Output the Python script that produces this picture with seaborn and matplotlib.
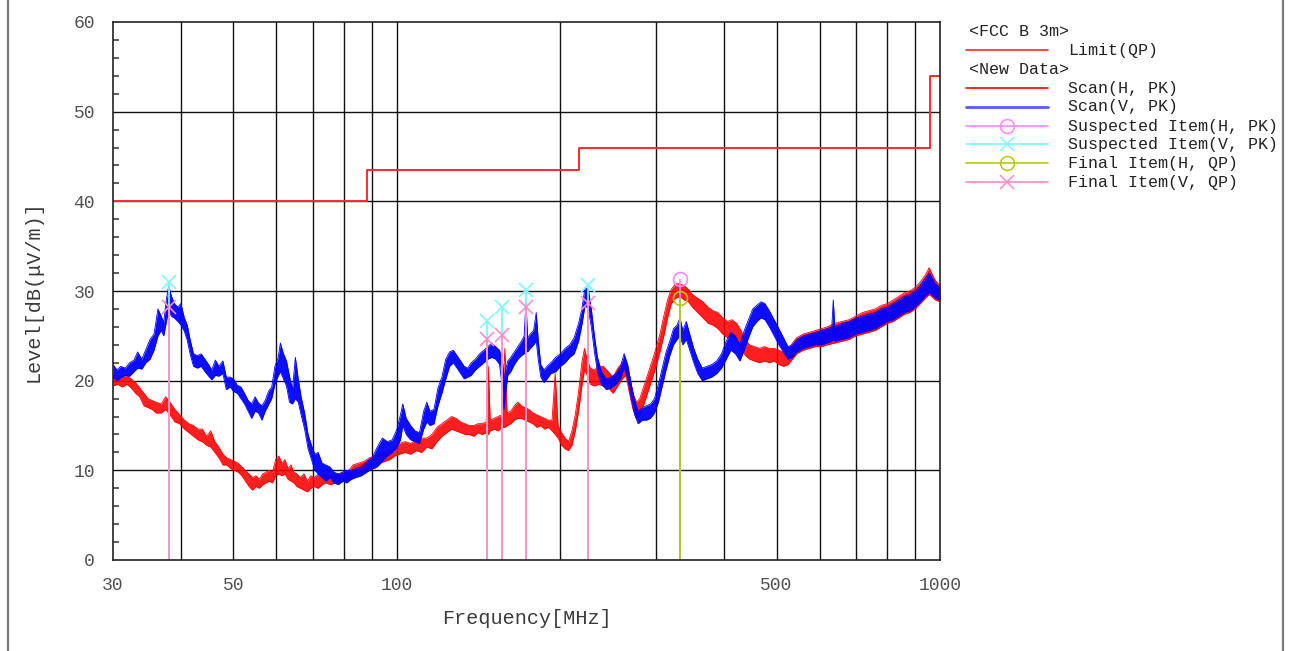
import matplotlib
matplotlib.use("Agg")
import matplotlib.pyplot as plt
from matplotlib.lines import Line2D
import seaborn as sns

sns.set_style("white")
plt.rcParams["font.family"] = ["Liberation Mono", "DejaVu Sans Mono"]

# ---------------- data ----------------
# FCC class B, 3 m quasi-peak limit (step function)
limit_freq = [30, 88, 216, 960, 1000]
limit_level = [40.0, 43.5, 46.0, 54.0, 54.0]

# Vertical polarisation peak scan: frequency [MHz], lower / upper trace envelope [dB(uV/m)]
v_freq = [30.0, 30.5, 31.0, 31.6, 32.2, 32.8, 33.3, 33.9, 34.5, 35.1, 35.7, 36.3, 36.8, 37.2, 37.6,
          38.0, 38.4, 38.9, 39.5, 40.0, 40.6, 41.1, 41.6, 42.2, 42.9, 43.6, 44.3, 45.0, 45.6, 46.3,
          47.0, 47.8, 48.5, 49.3, 50.0, 50.8, 51.6, 52.4, 53.2, 54.0, 54.8, 55.6, 56.4, 57.2, 58.0,
          58.8, 59.6, 60.4, 61.0, 61.8, 62.6, 63.4, 64.2, 65.0, 65.8, 66.6, 67.6, 68.6, 69.6, 70.6,
          71.6, 72.8, 74.0, 75.2, 76.6, 78.0, 79.4, 80.8, 82.4, 84.0, 86.0, 88.0, 90.0, 92.0, 94.0,
          96.0, 98.0, 100.0, 101.5, 102.5, 104.0, 106.0, 108.0, 110.0, 112.0, 113.5, 115.0, 117.0,
          119.0, 121.0, 123.0, 125.0, 127.0, 129.0, 131.0, 133.0, 135.0, 137.0, 139.5, 142.0, 144.5,
          147.0, 149.5, 152.0, 154.5, 156.5, 157.5, 158.5, 160.0, 162.0, 164.5, 167.0, 169.5, 171.5,
          172.8, 174.0, 176.0, 178.5, 180.5, 182.0, 184.0, 186.5, 189.0, 192.0, 196.0, 200.0, 204.0,
          208.0, 212.0, 216.0, 219.0, 222.0, 225.0, 228.0, 231.0, 234.0, 238.0, 243.0, 248.0, 253.0,
          258.0, 262.0, 266.0, 270.0, 274.0, 278.0, 283.0, 288.0, 293.0, 298.0, 303.0, 308.0, 313.0,
          318.0, 323.0, 328.0, 332.0, 336.0, 341.0, 346.0, 352.0, 358.0, 365.0, 372.0, 380.0, 388.0,
          396.0, 404.0, 412.0, 420.0, 428.0, 436.0, 444.0, 452.0, 460.0, 468.0, 476.0, 485.0, 495.0,
          505.0, 515.0, 525.0, 535.0, 545.0, 560.0, 575.0, 590.0, 605.0, 620.0, 632.0, 636.0, 640.0,
          660.0, 680.0, 700.0, 720.0, 740.0, 760.0, 780.0, 800.0, 820.0, 840.0, 860.0, 880.0, 900.0,
          920.0, 940.0, 955.0, 965.0, 980.0, 1000.0]
v_lo = [20.4, 20.0, 20.3, 20.6, 20.5, 21.0, 21.4, 21.3, 22.0, 22.4, 23.4, 25.0, 25.6, 25.0, 26.5,
        28.0, 27.2, 27.0, 26.6, 26.2, 25.5, 24.5, 23.0, 21.6, 21.4, 21.6, 21.0, 20.5, 20.1, 20.6,
        20.5, 20.8, 19.0, 19.3, 18.8, 18.6, 18.0, 17.4, 16.6, 15.8, 16.6, 16.4, 15.6, 16.6, 17.3,
        18.0, 19.6, 20.5, 21.0, 20.2, 19.4, 17.6, 17.4, 18.0, 17.6, 16.2, 14.6, 12.4, 11.2, 10.0,
        9.6, 9.2, 8.8, 9.2, 8.6, 8.4, 8.8, 8.6, 9.0, 9.2, 9.4, 9.8, 10.2, 10.4, 11.0,
        11.6, 12.0, 12.6, 13.4, 15.0, 14.0, 13.4, 13.2, 13.0, 14.6, 15.4, 15.0, 15.2,
        17.2, 18.6, 20.2, 21.6, 22.0, 21.4, 20.8, 20.2, 20.4, 20.6, 21.2, 21.6, 22.0,
        22.4, 22.6, 22.4, 21.8, 19.0, 16.8, 18.6, 20.6, 21.0, 21.8, 22.4, 22.8, 23.0,
        23.4, 23.2, 23.6, 24.0, 24.4, 22.4, 20.4, 19.8, 20.2, 20.8, 21.0, 21.6, 22.0,
        22.6, 23.0, 24.4, 26.2, 28.4, 28.0, 26.0, 23.2, 21.0, 19.6, 19.0, 19.2, 19.6,
        20.2, 21.4, 20.2, 18.0, 16.2, 15.2, 15.6, 15.6, 15.8, 16.4, 17.6, 19.4, 21.2,
        22.8, 24.0, 24.6, 25.0, 24.0, 24.6, 23.4, 22.0, 20.8, 20.0, 20.2, 20.4, 20.8,
        21.4, 22.4, 23.4, 23.0, 22.2, 23.4, 24.8, 26.0, 26.6, 27.0, 26.8, 26.0, 25.0,
        24.0, 23.2, 22.4, 22.6, 23.2, 23.6, 23.8, 24.0, 24.0, 24.2, 24.4, 24.6, 24.4,
        24.6, 24.8, 25.2, 25.4, 25.6, 25.8, 26.2, 26.6, 26.8, 27.2, 27.6, 27.8, 28.2,
        28.8, 29.4, 29.8, 29.6, 29.2, 29.0]
v_hi = [21.8, 21.2, 21.6, 21.4, 22.0, 22.3, 23.2, 22.4, 23.5, 24.6, 25.2, 28.0, 27.2, 26.5, 29.0,
        30.6, 29.5, 28.6, 28.2, 28.6, 27.0, 26.2, 24.6, 23.0, 22.8, 23.0, 22.4, 21.8, 21.2, 22.3,
        21.6, 22.2, 20.4, 20.4, 20.2, 19.5, 19.3, 18.6, 17.8, 17.4, 18.2, 17.5, 17.2, 17.8, 18.8,
        19.3, 21.6, 22.5, 24.2, 23.0, 22.2, 20.5, 19.0, 22.6, 20.2, 18.2, 16.4, 14.0, 12.8, 11.8,
        12.0, 10.8, 10.6, 10.4, 9.8, 9.6, 9.8, 10.0, 10.0, 10.2, 10.4, 11.0, 11.4, 12.6, 13.6,
        13.2, 13.4, 14.6, 16.2, 17.4, 15.8, 15.0, 14.4, 14.2, 16.6, 17.6, 16.6, 16.8,
        19.2, 20.4, 22.4, 23.2, 23.4, 22.8, 22.2, 21.6, 21.4, 22.0, 22.4, 23.0, 23.4,
        23.8, 24.2, 23.8, 23.4, 22.0, 20.0, 21.2, 22.2, 22.6, 23.2, 23.8, 24.4, 25.0,
        28.8, 24.8, 25.2, 25.6, 27.6, 24.6, 21.8, 21.2, 21.6, 22.0, 22.6, 23.0, 23.6,
        24.0, 24.8, 26.4, 28.0, 30.4, 30.2, 28.0, 25.0, 22.6, 21.0, 20.2, 20.4, 20.8,
        21.6, 23.0, 21.8, 19.6, 17.8, 16.6, 17.0, 17.2, 17.4, 18.0, 19.6, 21.4, 23.2,
        24.4, 25.8, 26.2, 27.0, 25.6, 26.6, 25.2, 23.6, 22.4, 21.4, 21.6, 21.8, 22.2,
        23.0, 24.4, 25.4, 25.0, 24.0, 25.6, 26.8, 28.0, 28.4, 28.8, 28.6, 27.8, 26.8,
        25.8, 24.8, 23.8, 24.0, 24.6, 25.0, 25.2, 25.4, 25.6, 25.8, 26.0, 29.0, 26.0,
        26.4, 26.6, 27.0, 27.2, 27.4, 27.6, 28.0, 28.2, 28.6, 29.0, 29.4, 29.6, 30.0,
        30.6, 31.4, 32.0, 31.6, 30.8, 30.4]

# Horizontal polarisation peak scan
h_freq = [30.0, 30.6, 31.2, 31.8, 32.4, 33.0, 33.6, 34.2, 34.8, 35.4, 36.0, 36.8, 37.5, 38.2, 39.0,
          39.8, 40.6, 41.4, 42.2, 43.0, 43.8, 44.6, 45.4, 46.2, 47.0, 47.8, 48.6, 49.4, 50.2, 51.0,
          51.8, 52.6, 53.4, 54.2, 55.0, 55.8, 56.6, 57.4, 58.2, 59.0, 59.8, 60.6, 61.4, 62.2, 63.0,
          63.8, 64.6, 65.4, 66.4, 67.4, 68.4, 69.4, 70.4, 71.6, 72.8, 74.0, 75.5, 77.0, 78.5, 80.0,
          81.5, 83.0, 85.0, 87.0, 89.0, 91.0, 93.0, 95.0, 97.0, 99.0, 101.0, 103.5, 106.0, 108.5,
          111.0, 113.5, 116.0, 118.5, 121.0, 123.5, 126.0, 128.5, 131.0, 133.5, 136.0, 138.5, 141.0,
          143.5, 146.0, 147.3, 148.5, 151.0, 153.5, 156.0, 158.0, 159.5, 162.0, 164.5, 167.0, 169.5,
          172.0, 175.0, 178.0, 181.0, 184.0, 187.0, 190.0, 193.0, 195.6, 198.0, 201.0, 204.0, 207.0,
          210.0, 213.0, 216.0, 219.0, 221.5, 224.0, 227.0, 231.0, 235.0, 240.0, 245.0, 250.0, 255.0,
          260.0, 264.0, 268.0, 272.0, 276.0, 280.0, 285.0, 290.0, 295.0, 300.0, 305.0, 310.0, 315.0,
          320.0, 326.0, 332.0, 338.0, 344.0, 350.0, 358.0, 366.0, 374.0, 382.0, 390.0, 398.0, 406.0,
          414.0, 422.0, 430.0, 438.0, 446.0, 455.0, 465.0, 475.0, 485.0, 495.0, 505.0, 515.0, 525.0,
          535.0, 545.0, 560.0, 575.0, 590.0, 605.0, 620.0, 640.0, 660.0, 680.0, 700.0, 720.0, 740.0,
          760.0, 780.0, 800.0, 820.0, 840.0, 860.0, 880.0, 900.0, 920.0, 940.0, 955.0, 965.0, 980.0,
          1000.0]
h_lo = [19.4, 19.6, 19.3, 19.6, 19.2, 18.6, 18.2, 17.2, 17.0, 16.8, 16.4, 16.4, 16.8, 16.2, 15.4,
        15.2, 14.6, 14.2, 13.8, 13.4, 13.2, 12.8, 12.6, 12.0, 11.4, 10.6, 10.6, 10.2, 10.0, 9.8,
        9.4, 8.8, 8.2, 7.8, 8.2, 8.0, 8.4, 8.6, 8.8, 8.6, 9.4, 9.6, 9.4, 9.6, 9.0,
        8.8, 8.6, 8.2, 8.0, 7.8, 7.6, 8.0, 8.2, 8.0, 8.4, 8.6, 8.4, 8.6, 8.6, 8.8,
        9.0, 9.4, 9.8, 9.8, 10.2, 10.2, 10.8, 11.0, 11.2, 11.6, 11.8, 12.0, 11.8, 12.2,
        12.0, 12.6, 12.4, 13.2, 13.8, 14.2, 14.6, 14.4, 14.2, 14.0, 14.0, 13.8, 14.2,
        14.0, 14.2, 14.0, 14.4, 14.6, 14.4, 14.8, 14.8, 15.0, 15.2, 15.6, 15.8, 15.8,
        15.6, 15.4, 15.2, 14.8, 15.0, 14.6, 14.8, 14.4, 14.0, 13.6, 12.8, 12.4, 12.2,
        12.8, 14.4, 16.6, 19.4, 21.2, 20.6, 19.6, 19.4, 19.6, 19.4, 19.2, 18.6, 19.4,
        20.2, 20.6, 18.6, 16.8, 15.8, 16.2, 17.4, 18.8, 20.2, 21.6, 23.2, 25.0, 27.0,
        28.6, 29.2, 29.4, 29.0, 28.8, 28.2, 27.6, 27.0, 26.4, 26.2, 25.8, 25.2, 24.8,
        25.0, 24.4, 23.6, 22.8, 22.4, 22.2, 22.0, 22.2, 22.0, 22.2, 21.8, 21.6, 21.8,
        22.4, 23.0, 23.4, 23.6, 23.8, 23.8, 24.0, 24.2, 24.4, 24.6, 25.0, 25.2, 25.4,
        25.6, 26.0, 26.4, 26.6, 27.0, 27.4, 27.6, 28.0, 28.6, 29.2, 29.6, 29.4, 29.0,
        28.8]
h_hi = [20.6, 20.4, 20.5, 20.6, 20.2, 19.8, 19.2, 18.6, 18.0, 17.8, 17.6, 17.4, 18.2, 17.6, 16.8,
        16.2, 15.6, 15.2, 15.0, 14.6, 14.6, 13.8, 14.4, 13.2, 12.6, 11.8, 11.4, 11.2, 11.0, 10.8,
        10.4, 10.0, 9.6, 9.2, 9.4, 9.0, 9.6, 9.8, 10.0, 9.8, 11.2, 11.6, 10.8, 11.2, 10.2,
        10.6, 9.8, 9.6, 9.2, 9.6, 8.8, 9.4, 9.2, 9.6, 9.4, 9.6, 9.4, 9.6, 9.6, 9.8,
        10.0, 10.6, 10.8, 11.0, 11.4, 11.6, 12.0, 12.0, 12.2, 12.6, 13.0, 13.2, 13.0, 13.4,
        13.6, 13.6, 14.0, 14.8, 15.2, 15.6, 16.0, 15.8, 15.4, 15.2, 15.0, 15.0, 15.2,
        15.2, 15.4, 21.6, 15.6, 15.8, 16.0, 16.2, 23.6, 16.4, 16.6, 17.2, 17.6, 17.2,
        17.0, 16.8, 16.4, 16.2, 16.0, 15.8, 15.6, 15.6, 20.8, 15.0, 14.2, 13.6, 13.2,
        14.4, 16.2, 18.8, 22.0, 23.6, 22.4, 21.4, 21.2, 21.6, 21.6, 21.0, 20.4, 21.4,
        22.0, 22.2, 20.6, 18.6, 17.6, 18.0, 19.4, 20.8, 22.2, 23.6, 25.2, 27.2, 29.0,
        30.2, 30.8, 30.8, 30.6, 30.2, 29.6, 29.2, 28.8, 28.2, 27.8, 27.6, 27.0, 26.6,
        26.8, 26.4, 25.6, 24.6, 24.0, 23.8, 23.6, 23.8, 23.6, 23.6, 23.4, 23.2, 23.4,
        24.2, 24.8, 25.2, 25.4, 25.6, 25.8, 26.0, 26.4, 26.6, 26.8, 27.2, 27.6, 27.8,
        28.0, 28.4, 28.6, 29.0, 29.4, 29.8, 30.0, 30.4, 31.0, 31.8, 32.6, 32.0, 31.2,
        30.6]

# Suspected (peak) and final (quasi-peak) items
susp_v_freq = [38.1, 146.7, 156.1, 172.9, 224.5]
susp_v_level = [31.0, 26.6, 28.2, 30.1, 30.7]
final_v_freq = [38.1, 146.7, 156.1, 172.9, 224.5]
final_v_level = [28.2, 24.6, 25.1, 28.2, 28.7]
susp_h_freq = [332.0]
susp_h_level = [31.3]
final_h_freq = [332.0]
final_h_level = [29.2]

# tick labels
x_tick_values = [30, 50, 100, 500, 1000]
x_tick_labels = ["30", "50", "100", "500", "1000"]
y_tick_values = [0, 10, 20, 30, 40, 50, 60]

# ---------------- styling ----------------
C_LIMIT = "#ff2a2a"
C_H = "#ff0000"
C_V = "#0000ff"
C_SUSP_H = "#ff88ff"
C_SUSP_V = "#7ff5ff"
C_FINAL_H = "#b4c814"
C_FINAL_V = "#ff8cc6"
TXT = "#3a3a3a"

W, H = 1290, 651
fig = plt.figure(figsize=(W / 100, H / 100), dpi=100)
fig.patch.set_facecolor("white")
ax = fig.add_axes([113 / W, 1 - 560 / H, 827 / W, 538 / H])
ax.set_xscale("log")
ax.set_xlim(30, 1000)
ax.set_ylim(0, 60)

# grid
for f in [40, 50, 60, 70, 80, 90, 100, 200, 300, 400, 500, 600, 700, 800, 900]:
    ax.axvline(f, color="#111111", lw=1.0, zorder=1)
for lv in [10, 20, 30, 40, 50]:
    ax.axhline(lv, color="#111111", lw=1.0, zorder=1)

# limit line
sns.lineplot(x=limit_freq, y=limit_level, drawstyle="steps-post", color=C_LIMIT,
             lw=1.4, ax=ax, zorder=3, estimator=None)

# scan traces (H below V)
for fr, lo, hi, col, a, z in [(h_freq, h_lo, h_hi, C_H, 0.88, 4), (v_freq, v_lo, v_hi, C_V, 0.95, 5)]:
    ax.fill_between(fr, lo, hi, color=col, lw=0, alpha=a, zorder=z)
    sns.lineplot(x=fr, y=lo, color=col, lw=0.6, ax=ax, zorder=z, estimator=None)
    sns.lineplot(x=fr, y=hi, color=col, lw=0.6, ax=ax, zorder=z, estimator=None)

# stems
ax.vlines(susp_v_freq, 0, susp_v_level, color=C_SUSP_V, lw=1.3, zorder=6)
ax.vlines(susp_h_freq, 0, susp_h_level, color=C_SUSP_H, lw=1.3, zorder=6)
ax.vlines(final_v_freq, 0, final_v_level, color=C_FINAL_V, lw=1.3, zorder=7)
ax.vlines(final_h_freq, 0, final_h_level, color=C_FINAL_H, lw=1.3, zorder=7)

# markers
ax.plot(susp_v_freq, susp_v_level, ls="none", marker="x", ms=10, mew=1.2, color=C_SUSP_V, zorder=8)
ax.plot(final_v_freq, final_v_level, ls="none", marker="x", ms=10, mew=1.2, color=C_FINAL_V, zorder=9)
ax.plot(susp_h_freq, susp_h_level, ls="none", marker="o", ms=10, mew=1.2, mfc="none",
        color=C_SUSP_H, zorder=8)
ax.plot(final_h_freq, final_h_level, ls="none", marker="o", ms=10, mew=1.2, mfc="none",
        color=C_FINAL_H, zorder=9)

# axes and ticks
ax.set_xticks(x_tick_values)
ax.set_xticklabels(x_tick_labels)
ax.xaxis.set_minor_locator(matplotlib.ticker.NullLocator())
ax.set_yticks(y_tick_values)
ax.set_yticks(list(range(2, 60, 2)), minor=True)
ax.tick_params(axis="x", which="both", length=0, pad=12, labelsize=13, labelcolor="#505050")
ax.tick_params(axis="y", which="major", length=0, pad=13, labelsize=13, labelcolor="#505050")
ax.tick_params(axis="y", which="minor", direction="in", length=4.5, width=1.1, color="#333333",
               left=True, right=False)
for s in ax.spines.values():
    s.set_color("#222222")
    s.set_linewidth(1.2)
    s.set_visible(True)
    s.set_zorder(10)

ax.set_xlabel("Frequency[MHz]", fontsize=14.5, color=TXT, labelpad=11)
ax.set_ylabel("Level[dB(μV/m)]", fontsize=14.5, color=TXT, labelpad=22)
ax.set_facecolor("white")

# legend panel (drawn in pixel coordinates of the figure)
def fx(px):
    return px / W


def fy(py):
    return 1 - py / H


def legend_text(px, py, s):
    fig.text(fx(px), fy(py), s, fontsize=12, color="#222222", va="center", ha="left")


def legend_line(py, col, marker=None, lw=1.2):
    fig.add_artist(Line2D([fx(966), fx(1048)], [fy(py), fy(py)], color=col, lw=lw))
    if marker is not None:
        fig.add_artist(Line2D([fx(1007)], [fy(py)], ls="none", marker=marker, ms=10, mew=1.1,
                              mfc="none", color=col))


legend_text(969, 31, "<FCC B 3m>")
legend_line(50, C_LIMIT)
legend_text(1068, 50, "Limit(QP)")
legend_text(969, 70, "<New Data>")
legend_line(88, C_H)
legend_text(1068, 88, "Scan(H, PK)")
legend_line(107, "#5a5aff", lw=2.0)
legend_text(1068, 107, "Scan(V, PK)")
legend_line(126, C_SUSP_H, "o")
legend_text(1068, 126, "Suspected Item(H, PK)")
legend_line(144, C_SUSP_V, "x")
legend_text(1068, 144, "Suspected Item(V, PK)")
legend_line(163, C_FINAL_H, "o")
legend_text(1068, 163, "Final Item(H, QP)")
legend_line(182, C_FINAL_V, "x")
legend_text(1068, 182, "Final Item(V, QP)")

# outer frame edges
for px in (8, 1283):
    fig.add_artist(Line2D([fx(px), fx(px)], [0, 1], color="#7a7a7a", lw=1.6))

fig.savefig("out.png", dpi=100, facecolor="white")
